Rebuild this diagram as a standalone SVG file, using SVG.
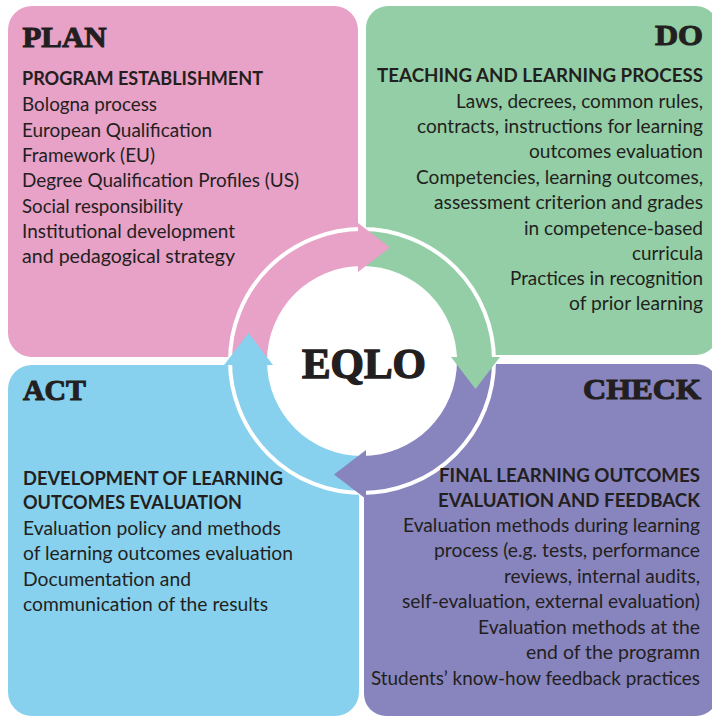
<svg xmlns="http://www.w3.org/2000/svg" width="712" height="718" viewBox="0 0 712 718">
<style>
.ttl{font-family:"Liberation Serif","DejaVu Serif",serif;font-weight:bold;font-size:30px;fill:#231f20;stroke:#231f20;stroke-width:1.1px}
.hd{font-family:Lato,"Open Sans",sans-serif;font-weight:700;font-size:18.5px;fill:#231f20}
.tx{font-family:Lato,"Open Sans",sans-serif;font-weight:400;font-size:18.5px;fill:#231f20}
.pink{fill:#e8a1c7}.green{fill:#93cea6}.blue{fill:#87d1ee}.purple{fill:#8884be}
</style>
<defs>
<path id="band" d="M230,361 A132,132 0 0 1 362,229 L362,266 A95,95 0 0 0 267,361 Z"/>
<polygon id="head" points="358,223 390,247.5 358,272"/>
</defs>
<rect width="712" height="718" fill="#ffffff"/>

<g id="plan">
<rect class="pink" x="8" y="6" width="350" height="351" rx="24"/>
</g>
<g id="do">
<rect class="green" x="366" y="6" width="352" height="349" rx="22"/>
</g>
<g id="act">
<rect class="blue" x="8" y="365" width="351" height="351" rx="24"/>
</g>
<g id="check">
<rect class="purple" x="364" y="364" width="354" height="352" rx="22"/>
</g>

<g id="connectors">
<use href="#band" class="pink"/>
<use href="#band" class="green" transform="rotate(90 362 361)"/>
<use href="#band" class="purple" transform="rotate(180 362 361)"/>
<use href="#band" class="blue" transform="rotate(270 362 361)"/>
<circle cx="362" cy="361" r="95" fill="#ffffff"/>
<circle cx="362" cy="361" r="132" fill="none" stroke="#ffffff" stroke-width="4"/>
<use href="#head" class="pink"/>
<use href="#head" class="green" transform="rotate(90 362 361)"/>
<use href="#head" class="purple" transform="rotate(180 362 361)"/>
<use href="#head" class="blue" transform="rotate(270 362 361)"/>
</g>

<g id="eqlo">
<text class="ttl" x="302" y="378" style="font-size:42px;stroke-width:1.4px" textLength="124" lengthAdjust="spacingAndGlyphs">EQLO</text>
</g>

<g id="plan-text">
<text class="ttl" x="22.5" y="46.5" textLength="84" lengthAdjust="spacingAndGlyphs">PLAN</text>
<text class="hd" x="22" y="85" textLength="241" lengthAdjust="spacingAndGlyphs">PROGRAM ESTABLISHMENT</text>
<text class="tx" x="22" y="111" textLength="135" lengthAdjust="spacingAndGlyphs">Bologna process</text>
<text class="tx" x="22" y="136.5" textLength="190" lengthAdjust="spacingAndGlyphs">European Qualification</text>
<text class="tx" x="22" y="162" textLength="133" lengthAdjust="spacingAndGlyphs">Framework (EU)</text>
<text class="tx" x="22" y="187" textLength="277" lengthAdjust="spacingAndGlyphs">Degree Qualification Profiles (US)</text>
<text class="tx" x="22" y="212.5" textLength="161" lengthAdjust="spacingAndGlyphs">Social responsibility</text>
<text class="tx" x="22" y="238" textLength="213" lengthAdjust="spacingAndGlyphs">Institutional development</text>
<text class="tx" x="22" y="263" textLength="213" lengthAdjust="spacingAndGlyphs">and pedagogical strategy</text>
</g>

<g id="do-text">
<text class="ttl" x="655" y="45" textLength="48" lengthAdjust="spacingAndGlyphs">DO</text>
<text class="hd" x="377" y="82" textLength="326" lengthAdjust="spacingAndGlyphs">TEACHING AND LEARNING PROCESS</text>
<text class="tx" x="456" y="107.5" textLength="247" lengthAdjust="spacingAndGlyphs">Laws, decrees, common rules,</text>
<text class="tx" x="417" y="133" textLength="286" lengthAdjust="spacingAndGlyphs">contracts, instructions for learning</text>
<text class="tx" x="529" y="158" textLength="174" lengthAdjust="spacingAndGlyphs">outcomes evaluation</text>
<text class="tx" x="416" y="183.5" textLength="287" lengthAdjust="spacingAndGlyphs">Competencies, learning outcomes,</text>
<text class="tx" x="434" y="209" textLength="269" lengthAdjust="spacingAndGlyphs">assessment criterion and grades</text>
<text class="tx" x="524" y="234.5" textLength="179" lengthAdjust="spacingAndGlyphs">in competence-based</text>
<text class="tx" x="632" y="259.5" textLength="71" lengthAdjust="spacingAndGlyphs">curricula</text>
<text class="tx" x="510" y="285" textLength="193" lengthAdjust="spacingAndGlyphs">Practices in recognition</text>
<text class="tx" x="569" y="310" textLength="134" lengthAdjust="spacingAndGlyphs">of prior learning</text>
</g>

<g id="act-text">
<text class="ttl" x="23" y="400" textLength="63" lengthAdjust="spacingAndGlyphs">ACT</text>
<text class="hd" x="23" y="485" textLength="260" lengthAdjust="spacingAndGlyphs">DEVELOPMENT OF LEARNING</text>
<text class="hd" x="23" y="509" textLength="219" lengthAdjust="spacingAndGlyphs">OUTCOMES EVALUATION</text>
<text class="tx" x="23" y="535" textLength="258" lengthAdjust="spacingAndGlyphs">Evaluation policy and methods</text>
<text class="tx" x="23" y="560" textLength="270" lengthAdjust="spacingAndGlyphs">of learning outcomes evaluation</text>
<text class="tx" x="23" y="586" textLength="168" lengthAdjust="spacingAndGlyphs">Documentation and</text>
<text class="tx" x="23" y="611" textLength="245" lengthAdjust="spacingAndGlyphs">communication of the results</text>
</g>

<g id="check-text">
<text class="ttl" x="583" y="399" textLength="118" lengthAdjust="spacingAndGlyphs">CHECK</text>
<text class="hd" x="439" y="482" textLength="261" lengthAdjust="spacingAndGlyphs">FINAL LEARNING OUTCOMES</text>
<text class="hd" x="438" y="507" textLength="262" lengthAdjust="spacingAndGlyphs">EVALUATION AND FEEDBACK</text>
<text class="tx" x="403" y="532" textLength="297" lengthAdjust="spacingAndGlyphs">Evaluation methods during learning</text>
<text class="tx" x="434" y="557" textLength="266" lengthAdjust="spacingAndGlyphs">process (e.g. tests, performance</text>
<text class="tx" x="504" y="583" textLength="196" lengthAdjust="spacingAndGlyphs">reviews, internal audits,</text>
<text class="tx" x="402" y="608" textLength="298" lengthAdjust="spacingAndGlyphs">self-evaluation, external evaluation)</text>
<text class="tx" x="478" y="634" textLength="222" lengthAdjust="spacingAndGlyphs">Evaluation methods at the</text>
<text class="tx" x="526" y="658.5" textLength="174" lengthAdjust="spacingAndGlyphs">end of the programn</text>
<text class="tx" x="371" y="685" textLength="329" lengthAdjust="spacingAndGlyphs">Students’ know-how feedback practices</text>
</g>
</svg>
